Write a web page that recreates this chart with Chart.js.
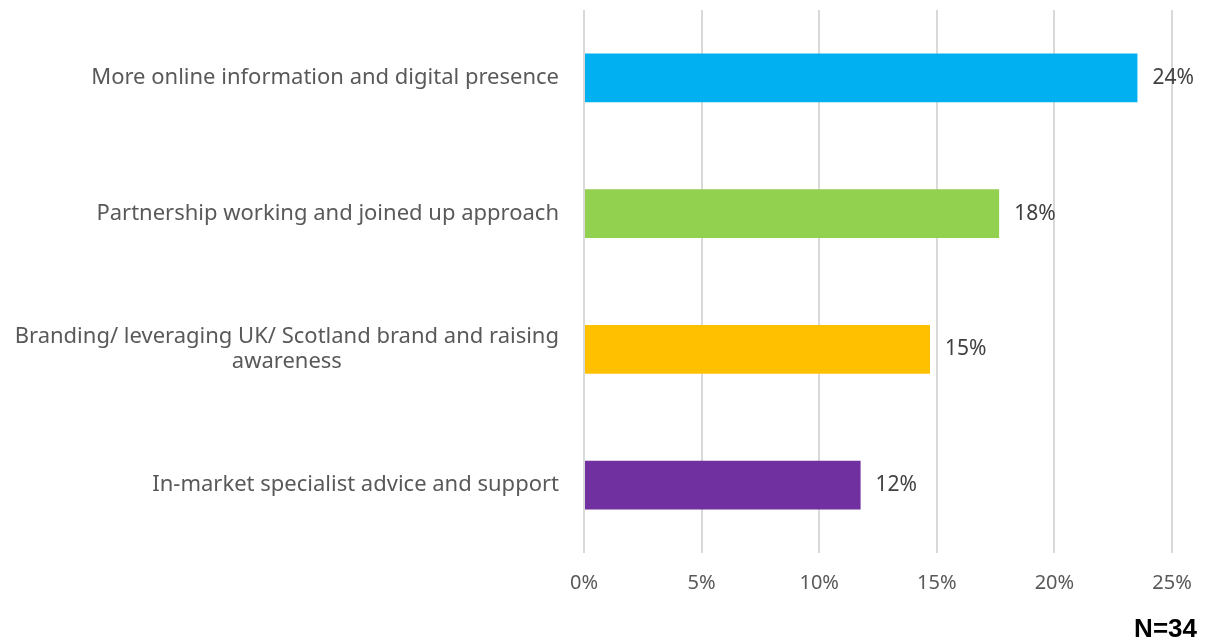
<!DOCTYPE html>
<html>
<head>
<meta charset="utf-8">
<script src="https://cdn.jsdelivr.net/npm/chart.js@4/dist/chart.umd.min.js"></script>
<style>
  html, body { margin: 0; padding: 0; background: #ffffff; }
  #wrap { position: relative; width: 1205px; height: 644px; }
</style>
</head>
<body>
<div id="wrap"><canvas id="chart"></canvas></div>
<script>
// Suggested improvements (share of respondents, N=34)
const categories = [
  ["More online information and digital presence"],
  ["Partnership working and joined up approach"],
  ["Branding/ leveraging UK/ Scotland brand and raising", "awareness"],
  ["In-market specialist advice and support"]
];
const shares = [23.53, 17.65, 14.71, 11.76];
const barColors = ["#00B0F0", "#92D050", "#FFC000", "#7030A0"];
const xTicks = [0, 5, 10, 15, 20, 25];
const sampleNote = "N=34";

const labelFont = '22px "Noto Sans", sans-serif';
const labelColor = "#595959";

// Category labels: block right-aligned to the axis, each line centred in the block
const categoryLabels = {
  id: "categoryLabels",
  afterDraw(chart) {
    const { ctx, chartArea, scales } = chart;
    ctx.save();
    ctx.font = labelFont;
    ctx.fillStyle = labelColor;
    ctx.textBaseline = "middle";
    ctx.textAlign = "center";
    const lineH = 25;
    categories.forEach((lines, i) => {
      const yc = scales.y.getPixelForValue(i);
      const w = Math.max(...lines.map(l => ctx.measureText(l).width));
      const right = chartArea.left - 25;
      const cx = right - w / 2;
      const y0 = yc - (lines.length - 1) * lineH / 2;
      lines.forEach((l, k) => ctx.fillText(l, cx, y0 + k * lineH));
    });
    ctx.restore();
  }
};

// Value labels at bar ends and the sample size note
const valueLabels = {
  id: "valueLabels",
  afterDatasetsDraw(chart) {
    const { ctx } = chart;
    const meta = chart.getDatasetMeta(0);
    ctx.save();
    ctx.font = '21px "Noto Sans", sans-serif';
    ctx.fillStyle = "#404040";
    ctx.textBaseline = "middle";
    ctx.textAlign = "left";
    meta.data.forEach((bar, i) => {
      ctx.fillText(Math.round(shares[i]) + "%", bar.x + 15, bar.y);
    });
    ctx.font = 'bold 26px "Liberation Sans", Arial, sans-serif';
    ctx.fillStyle = "#000000";
    ctx.textAlign = "right";
    ctx.textBaseline = "alphabetic";
    ctx.fillText(sampleNote, 1197, 637);
    ctx.restore();
  }
};

new Chart(document.getElementById("chart"), {
  type: "bar",
  data: {
    labels: categories.map(c => c.join(" ")),
    datasets: [{
      data: shares,
      backgroundColor: barColors,
      borderWidth: 0,
      categoryPercentage: 1,
      barPercentage: 0.36
    }]
  },
  options: {
    indexAxis: "y",
    responsive: true,
    maintainAspectRatio: false,
    animation: false,
    layout: { padding: { left: 584, right: 33, top: 10, bottom: 31 } },
    plugins: { legend: { display: false }, tooltip: { enabled: false } },
    scales: {
      x: {
        min: 0,
        max: 25,
        afterBuildTicks(scale) { scale.ticks = xTicks.map(v => ({ value: v })); },
        // the end labels may overhang the plot edges; the page margins already leave room
        afterFit(scale) { scale.paddingLeft = 0; scale.paddingRight = 0; },
        border: { display: false },
        grid: { color: "#d9d9d9", lineWidth: 2, drawTicks: false },
        ticks: {
          padding: 18,
          color: labelColor,
          font: { family: '"Noto Sans", sans-serif', size: 20 },
          callback: v => v + "%"
        }
      },
      y: {
        display: false
      }
    }
  },
  plugins: [categoryLabels, valueLabels]
});
</script>
</body>
</html>
